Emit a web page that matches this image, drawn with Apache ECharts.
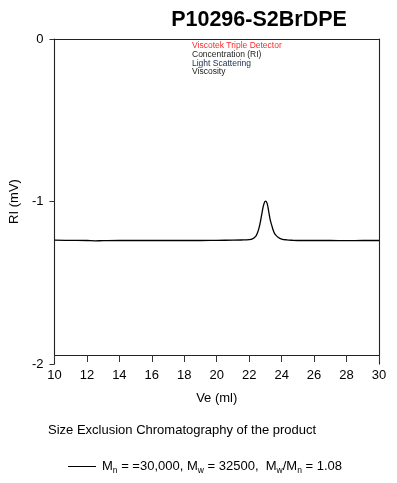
<!DOCTYPE html>
<html>
<head>
<meta charset="utf-8">
<script src="https://cdn.jsdelivr.net/npm/echarts@6/dist/echarts.min.js"></script>
<style>
  html, body { margin: 0; padding: 0; background: #fff; }
  #chart { width: 397px; height: 483px; }
</style>
</head>
<body>
<div id="chart"></div>
<script>
// elution volume (ml) and RI signal (mV)
var ve = [10, 11, 12, 12.5, 13, 14, 15, 16, 17, 18, 19, 20, 21, 21.5, 22, 22.2, 22.4, 22.5, 22.6,
  22.7, 22.8, 22.9, 23.0, 23.1, 23.2, 23.3, 23.4, 23.5, 23.6, 23.8, 24.0, 24.3, 24.7, 25, 26, 27, 28, 29, 30];
var ri = [-1.238, -1.239, -1.240, -1.242, -1.241, -1.240, -1.240, -1.240, -1.240, -1.240, -1.240, -1.239,
  -1.238, -1.237, -1.235, -1.230, -1.215, -1.195, -1.165, -1.120, -1.065, -1.018, -0.998, -1.010, -1.060,
  -1.115, -1.150, -1.182, -1.202, -1.222, -1.231, -1.236, -1.239, -1.240, -1.240, -1.240, -1.241, -1.240, -1.240];

var xTicks = [10, 30, 2];   // min, max, step
var yTicks = [-2, 0, 1];

var seriesName = 'Mn';
var detectorLines = [
  ['Viscotek Triple Detector', '#ff2a2a'],
  ['Concentration (RI)', '#222222'],
  ['Light Scattering', '#1c2c4c'],
  ['Viscosity', '#222222']
];

var font = '"Liberation Sans", Arial, sans-serif';
var chart = echarts.init(document.getElementById('chart'), null, { renderer: 'canvas' });

var pts = ve.map(function (v, i) { return [v, ri[i]]; });

var detectorText = detectorLines.map(function (d, i) {
  return {
    type: 'text',
    left: 192,
    top: 41.5 + i * 8.6,
    style: { text: d[0], fill: d[1], font: '8.5px ' + font }
  };
});

var frameLine = { show: true, onZero: false, lineStyle: { color: '#222', width: 1.1 } };

var option = {
  backgroundColor: '#ffffff',
  animation: false,
  textStyle: { fontFamily: font },
  title: {
    text: 'P10296-S2BrDPE',
    left: 254,
    textAlign: 'center',
    top: 4,
    textStyle: { fontSize: 21.5, fontWeight: 'bold', color: '#000' }
  },
  grid: { left: 52, right: 18, top: 39, bottom: 119 },
  xAxis: [{
    type: 'value',
    position: 'bottom',
    offset: -9,
    min: xTicks[0], max: xTicks[1], interval: xTicks[2],
    name: 'Ve (ml)',
    nameLocation: 'middle',
    nameGap: 37,
    nameTextStyle: { fontSize: 13, color: '#000' },
    axisLine: frameLine,
    axisTick: { show: true, inside: false, length: 7, lineStyle: { color: '#333' } },
    axisLabel: { fontSize: 13, color: '#000', margin: 14 },
    splitLine: { show: false }
  }, {
    type: 'value',
    position: 'top',
    min: xTicks[0], max: xTicks[1],
    axisLine: frameLine,
    axisTick: { show: false },
    axisLabel: { show: false },
    splitLine: { show: false }
  }],
  yAxis: [{
    type: 'value',
    position: 'left',
    min: yTicks[0], max: yTicks[1], interval: yTicks[2],
    name: 'RI (mV)',
    nameLocation: 'middle',
    nameGap: 32,
    nameTextStyle: { fontSize: 13, color: '#000' },
    axisLine: frameLine,
    axisTick: { show: true, length: 5, lineStyle: { color: '#333' } },
    axisLabel: { fontSize: 13, color: '#000', margin: 11 },
    splitLine: { show: false }
  }, {
    type: 'value',
    position: 'right',
    min: yTicks[0], max: yTicks[1],
    axisLine: frameLine,
    axisTick: { show: false },
    axisLabel: { show: false },
    splitLine: { show: false }
  }],
  legend: {
    left: 63,
    top: 455,
    icon: 'rect',
    itemWidth: 28,
    itemHeight: 1,
    itemGap: 10,
    data: [seriesName],
    formatter: function () {
      return 'M{sub|n} = =30,000, M{sub|w} = 32500,  M{sub|w}/M{sub|n} = 1.08';
    },
    textStyle: {
      fontSize: 13,
      color: '#000',
      padding: [0, 0, 0, 1],
      rich: {
        sub: { fontSize: 8.5, color: '#000', padding: [9, 0, 0, 0] }
      }
    }
  },
  graphic: detectorText.concat([{
    type: 'text',
    left: 48,
    top: 424,
    style: { text: 'Size Exclusion Chromatography of the product', fill: '#000', font: '13px ' + font }
  }]),
  series: [{
    name: seriesName,
    type: 'line',
    data: pts,
    smooth: 0.4,
    showSymbol: false,
    clip: true,
    lineStyle: { color: '#000', width: 1.3 },
    itemStyle: { color: '#000' }
  }]
};

chart.setOption(option);
</script>
</body>
</html>
